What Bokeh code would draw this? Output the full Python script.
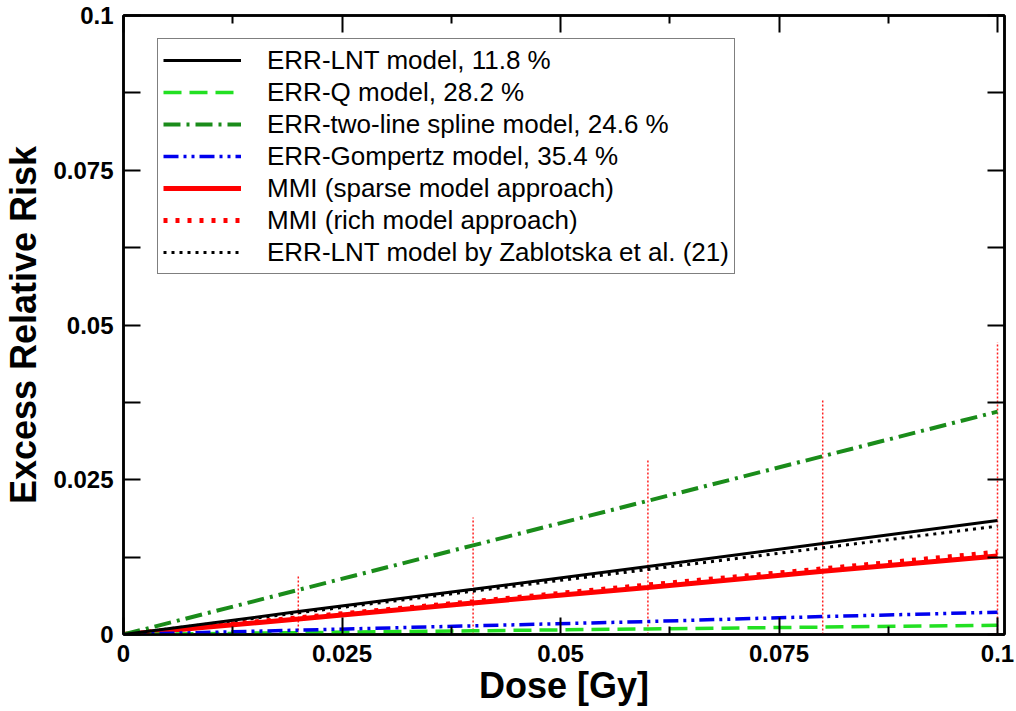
from bokeh.plotting import figure
from bokeh.models import LinearAxis, FixedTicker, Range1d, Legend, LegendItem
from bokeh.embed import file_html
from bokeh.resources import INLINE

# ---- data ----
dose = [0.0, 0.02, 0.04, 0.06, 0.08, 0.1]
err_lnt = [0.0, 0.0037, 0.0073, 0.0110, 0.0147, 0.0184]
err_q = [0.0, 0.0003, 0.0006, 0.0009, 0.0012, 0.0015]
err_spline = [0.0, 0.0072, 0.0144, 0.0216, 0.0288, 0.0360]
err_gompertz = [0.0, 0.0007, 0.0014, 0.0021, 0.0029, 0.0036]
mmi_sparse = [0.0, 0.0025, 0.0051, 0.0076, 0.0102, 0.0127]
mmi_rich = [0.0, 0.0027, 0.0053, 0.0080, 0.0106, 0.0133]
zablotska = [0.0, 0.0035, 0.0070, 0.0105, 0.0140, 0.0175]

ci_dose = [0.02, 0.04, 0.06, 0.08, 0.1]
ci_low = [0.0, 0.0, 0.0, 0.0, 0.0]
ci_high = [0.0094, 0.0189, 0.0283, 0.0378, 0.0472]

series_labels = [
    "ERR-LNT model, 11.8 %",
    "ERR-Q model, 28.2 %",
    "ERR-two-line spline model, 24.6 %",
    "ERR-Gompertz model, 35.4 %",
    "MMI (sparse model approach)",
    "MMI (rich model approach)",
    "ERR-LNT model by Zablotska et al. (21)",
]

x_ticks = [0.0, 0.025, 0.05, 0.075, 0.1]
x_tick_labels = ["0", "0.025", "0.05", "0.075", "0.1"]
x_minor = [0.0125, 0.0375, 0.0625, 0.0875]
y_ticks = [0.0, 0.025, 0.05, 0.075, 0.1]
y_tick_labels = ["0", "0.025", "0.05", "0.075", "0.1"]
y_minor = [0.0125, 0.0375, 0.0625, 0.0875]

FONT = "Liberation Sans"

p = figure(width=1016, height=711, output_backend="svg", toolbar_location=None,
           x_range=Range1d(0, 0.1008), y_range=Range1d(0, 0.1),
           min_border_left=121, min_border_right=12, min_border_top=15, min_border_bottom=77)
p.xgrid.visible = False
p.ygrid.visible = False
p.outline_line_color = "black"
p.outline_line_width = 2.5
p.background_fill_color = "white"
p.border_fill_color = "white"

# error bars (rich model)
p.segment(x0=ci_dose, y0=ci_low, x1=ci_dose, y1=ci_high, line_color="#ff2020",
          line_width=1.5, line_dash="2 2")

r_zab = p.line(dose, zablotska, line_color="black", line_width=3, line_dash="3 5")
r_rich = p.line(dose, mmi_rich, line_color="#ff0000", line_width=5, line_dash="4 8")
r_sparse = p.line(dose, mmi_sparse, line_color="#ff0000", line_width=5)
r_q = p.line(dose, err_q, line_color="#22e022", line_width=3.5, line_dash="18 8")
r_gomp = p.line(dose, err_gompertz, line_color="#0000ee", line_width=3.5, line_dash="15 5 3 5 3 5")
r_spline = p.line(dose, err_spline, line_color="#1a8c1a", line_width=4, line_dash="17 6 3 6")
r_lnt = p.line(dose, err_lnt, line_color="black", line_width=3)

renderers = [r_lnt, r_q, r_spline, r_gomp, r_sparse, r_rich, r_zab]
legend = Legend(items=[LegendItem(label=l, renderers=[r]) for l, r in zip(series_labels, renderers)],
                location=(34, 360))
legend.label_text_font = FONT
legend.label_text_font_size = "26px"
legend.label_text_color = "black"
legend.glyph_width = 78
legend.glyph_height = 20
legend.label_height = 32
legend.spacing = 0
legend.padding = 5
legend.label_standoff = 26
legend.border_line_color = "black"
legend.border_line_width = 1.5
legend.background_fill_alpha = 1.0
legend.margin = 0
p.add_layout(legend)


def style_axis(ax, ticks, minor, labels, tick_labels=True, major_in=17, minor_in=17):
    ax.ticker = FixedTicker(ticks=ticks, minor_ticks=minor)
    ax.major_label_overrides = {t: s for t, s in zip(ticks, labels)}
    ax.axis_line_width = 2.5
    ax.axis_line_color = "black"
    ax.major_tick_line_width = 2
    ax.minor_tick_line_width = 2
    ax.major_tick_in = major_in
    ax.major_tick_out = 0
    ax.minor_tick_in = minor_in
    ax.minor_tick_out = 0
    ax.major_label_text_font = FONT
    ax.major_label_text_font_style = "bold"
    ax.major_label_text_font_size = "24px"
    ax.major_label_text_color = "black"
    if not tick_labels:
        ax.major_label_text_alpha = 0
        ax.major_label_text_font_size = "1px"
        ax.major_label_standoff = 0


xa = p.xaxis[0]
style_axis(xa, x_ticks, x_minor, x_tick_labels, major_in=17, minor_in=8)
xa.major_label_standoff = 10
xa.axis_label = "Dose [Gy]"
xa.axis_label_text_font = FONT
xa.axis_label_text_font_style = "bold"
xa.axis_label_text_font_size = "36px"
xa.axis_label_text_color = "black"
xa.axis_label_standoff = 0

ya = p.yaxis[0]
style_axis(ya, y_ticks, y_minor, y_tick_labels)
ya.major_label_standoff = 10
ya.axis_label = "Excess Relative Risk"
ya.axis_label_text_font = FONT
ya.axis_label_text_font_style = "bold"
ya.axis_label_text_font_size = "36px"
ya.axis_label_text_color = "black"
ya.axis_label_standoff = 6

top = LinearAxis()
style_axis(top, x_ticks, x_minor, x_tick_labels, tick_labels=False, major_in=17, minor_in=8)
p.add_layout(top, "above")
right = LinearAxis()
style_axis(right, y_ticks, y_minor, y_tick_labels, tick_labels=False)
p.add_layout(right, "right")

open("out.html", "w").write(file_html(p, INLINE))
